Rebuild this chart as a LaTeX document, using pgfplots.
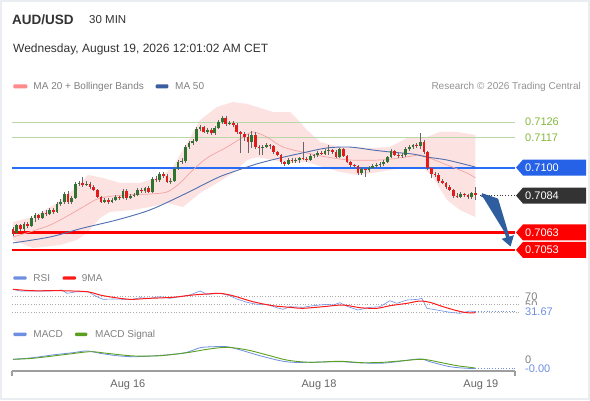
\documentclass[border=0pt]{standalone}
\usepackage{fontspec}
\setmainfont{Liberation Sans}
\usepackage{pgfplots}
\pgfplotsset{compat=1.18}
\usepackage{pgfplotstable}
\usetikzlibrary{arrows.meta}

\definecolor{cgreen}{HTML}{2F7330}
\definecolor{cred}{HTML}{E21B1B}
\definecolor{wick}{HTML}{666666}
\definecolor{bbfill}{HTML}{FDE2E2}
\definecolor{ma20}{HTML}{F4A3A3}
\definecolor{ma20leg}{HTML}{FF8A8A}
\definecolor{ma50}{HTML}{4F6FAF}
\definecolor{ma50leg}{HTML}{3A5E9E}
\definecolor{lvlgreen}{HTML}{B9D8A5}
\definecolor{lvlgreentext}{HTML}{86B83E}
\definecolor{levelblue}{RGB}{38,98,232}
\definecolor{levelline}{RGB}{40,108,250}
\definecolor{tagdark}{HTML}{333333}
\definecolor{lvlred}{HTML}{FF0000}
\definecolor{arrowblue}{HTML}{2F5E9E}
\definecolor{rsiblue}{HTML}{6F8FE2}
\definecolor{rsired}{HTML}{FF1A1A}
\definecolor{sigreen}{HTML}{5AA01E}
\definecolor{txtgrey}{HTML}{808080}
\definecolor{ticktxt}{HTML}{666666}
\definecolor{titletxt}{HTML}{333333}
\definecolor{axgrey}{HTML}{9E9E9E}
\definecolor{framecol}{HTML}{EAEEF2}
\definecolor{dotgrey}{HTML}{AAAAAA}

\newcommand{\fs}[1]{\fontsize{#1bp}{#1bp}\selectfont}
\newcommand{\pricetag}[4]{%
  \fill[#1] ([xshift=1bp]axis cs:136.8,#2) -- ++(7bp,8bp) -- ++(63bp,0bp) -- ++(0bp,-16bp) -- ++(-63bp,0bp) -- cycle;
  \node[anchor=west, inner sep=0pt, text=#4, font=\fs{11}] at ([xshift=10bp]axis cs:136.8,#2) {#3};}

\pgfplotstableread{
i o h l c
0 0.70649 0.70661 0.70609 0.70627
1 0.70627 0.70678 0.70621 0.70672
2 0.70672 0.70678 0.70638 0.70649
3 0.70649 0.70689 0.70638 0.70678
4 0.70678 0.70689 0.70655 0.70667
5 0.70667 0.70724 0.70661 0.70712
6 0.70712 0.70741 0.70689 0.70729
7 0.70729 0.70735 0.70701 0.70712
8 0.70712 0.70752 0.70707 0.70741
9 0.70741 0.70758 0.70724 0.70735
10 0.70735 0.70769 0.70729 0.70758
11 0.70758 0.70769 0.70735 0.70747
12 0.70747 0.70804 0.70741 0.70792
13 0.70792 0.70821 0.70781 0.70804
14 0.70804 0.70861 0.70792 0.70849
15 0.70849 0.70866 0.70792 0.70804
16 0.70804 0.70838 0.70792 0.70826
17 0.70826 0.70918 0.70821 0.70906
18 0.70906 0.70923 0.70895 0.70912
19 0.70912 0.70946 0.70889 0.70901
20 0.70901 0.70923 0.70895 0.70906
21 0.70906 0.70918 0.70878 0.70889
22 0.70889 0.70901 0.70866 0.70872
23 0.70872 0.70878 0.70826 0.70832
24 0.70832 0.70838 0.70798 0.70804
25 0.70804 0.70826 0.70798 0.70815
26 0.70815 0.70826 0.70792 0.70804
27 0.70804 0.70826 0.70798 0.70815
28 0.70815 0.70844 0.70809 0.70832
29 0.70832 0.70838 0.70815 0.70826
30 0.70826 0.70878 0.70821 0.70866
31 0.70866 0.70878 0.70815 0.70826
32 0.70826 0.70849 0.70821 0.70838
33 0.70838 0.70855 0.70832 0.70844
34 0.70844 0.70883 0.70838 0.70872
35 0.70872 0.70883 0.70855 0.70866
36 0.70866 0.70889 0.70855 0.70883
37 0.70883 0.70895 0.70855 0.70861
38 0.70861 0.70946 0.70855 0.70935
39 0.70935 0.70952 0.70918 0.70929
40 0.70929 0.70975 0.70918 0.70963
41 0.70963 0.70975 0.70941 0.70952
42 0.70952 0.70963 0.70912 0.70918
43 0.70918 0.70941 0.70906 0.70923
44 0.70923 0.71003 0.70918 0.70992
45 0.70992 0.71043 0.70986 0.71032
46 0.71032 0.71055 0.71020 0.71037
47 0.71037 0.71129 0.71026 0.71117
48 0.71117 0.71152 0.71106 0.71140
49 0.71140 0.71163 0.71129 0.71152
50 0.71152 0.71231 0.71146 0.71220
51 0.71220 0.71243 0.71209 0.71231
52 0.71231 0.71237 0.71197 0.71203
53 0.71203 0.71226 0.71192 0.71214
54 0.71214 0.71226 0.71186 0.71197
55 0.71197 0.71237 0.71186 0.71226
56 0.71226 0.71271 0.71220 0.71260
57 0.71260 0.71294 0.71249 0.71283
58 0.71283 0.71294 0.71237 0.71249
59 0.71249 0.71266 0.71243 0.71254
60 0.71254 0.71266 0.71231 0.71243
61 0.71243 0.71254 0.71192 0.71203
62 0.71203 0.71209 0.71083 0.71192
63 0.71192 0.71203 0.71152 0.71174
64 0.71174 0.71192 0.71083 0.71146
65 0.71146 0.71209 0.71112 0.71186
66 0.71186 0.71203 0.71106 0.71117
67 0.71117 0.71129 0.71072 0.71112
68 0.71112 0.71129 0.71072 0.71117
69 0.71117 0.71140 0.71112 0.71129
70 0.71129 0.71134 0.71106 0.71123
71 0.71123 0.71129 0.71077 0.71089
72 0.71089 0.71094 0.71066 0.71072
73 0.71072 0.71077 0.71020 0.71032
74 0.71032 0.71037 0.71009 0.71020
75 0.71020 0.71055 0.71015 0.71043
76 0.71043 0.71055 0.71026 0.71037
77 0.71037 0.71055 0.71026 0.71043
78 0.71043 0.71060 0.71026 0.71055
79 0.71055 0.71146 0.71043 0.71049
80 0.71049 0.71060 0.71032 0.71043
81 0.71043 0.71077 0.71037 0.71066
82 0.71066 0.71077 0.71055 0.71072
83 0.71072 0.71094 0.71060 0.71083
84 0.71083 0.71094 0.71072 0.71077
85 0.71077 0.71106 0.71072 0.71094
86 0.71094 0.71129 0.71072 0.71100
87 0.71100 0.71106 0.71077 0.71089
88 0.71089 0.71100 0.71055 0.71060
89 0.71060 0.71112 0.71055 0.71106
90 0.71106 0.71112 0.71060 0.71066
91 0.71066 0.71072 0.71026 0.71032
92 0.71032 0.71037 0.71003 0.71015
93 0.71015 0.71020 0.70998 0.71009
94 0.71009 0.71015 0.70958 0.70969
95 0.70969 0.71003 0.70958 0.70992
96 0.70992 0.71003 0.70946 0.70986
97 0.70986 0.71009 0.70975 0.70998
98 0.70998 0.71020 0.70992 0.71009
99 0.71009 0.71026 0.70998 0.71015
100 0.71015 0.71032 0.71003 0.71020
101 0.71020 0.71043 0.71009 0.71032
102 0.71032 0.71066 0.71026 0.71060
103 0.71060 0.71106 0.71055 0.71094
104 0.71094 0.71100 0.71066 0.71072
105 0.71072 0.71083 0.71055 0.71066
106 0.71066 0.71083 0.71055 0.71072
107 0.71072 0.71117 0.71060 0.71106
108 0.71106 0.71129 0.71094 0.71117
109 0.71117 0.71134 0.71106 0.71129
110 0.71129 0.71140 0.71112 0.71123
111 0.71123 0.71197 0.71106 0.71146
112 0.71146 0.71157 0.71077 0.71089
113 0.71089 0.71094 0.70986 0.70998
114 0.70998 0.71003 0.70941 0.70963
115 0.70963 0.70975 0.70946 0.70958
116 0.70958 0.70969 0.70912 0.70923
117 0.70923 0.70935 0.70906 0.70912
118 0.70912 0.70918 0.70878 0.70889
119 0.70889 0.70901 0.70866 0.70872
120 0.70872 0.70878 0.70826 0.70838
121 0.70838 0.70855 0.70826 0.70832
122 0.70832 0.70861 0.70826 0.70849
123 0.70849 0.70855 0.70832 0.70844
124 0.70844 0.70849 0.70821 0.70832
125 0.70832 0.70861 0.70821 0.70855
126 0.70855 0.70889 0.70815 0.70844
}\candles

\begin{document}
\begin{tikzpicture}[x=1bp,y=1bp]
\useasboundingbox (0,0) rectangle (590,400);
\fill[white] (0,0) rectangle (590,400);
\draw[draw=framecol, line width=2bp] (1,1) rectangle (589,399);

% ---------- main price panel ----------
\begin{axis}[at={(12bp,142bp)}, anchor=south west, scale only axis,
  width=503bp, height=163bp, xmin=-0.27, xmax=136.8,
  ymin=0.70484, ymax=0.71414, hide axis, clip=false]
% Bollinger band (upper edge, then lower edge backwards)
\addplot[fill=bbfill, draw=none, forget plot] coordinates {(0,0.70689) (5.4,0.70718) (12,0.70798) (17.4,0.70889) (20.4,0.70958) (24.5,0.70941) (29.2,0.70912) (34.6,0.70912) (40.1,0.70946) (43.6,0.71003) (47.4,0.71140) (51,0.71271) (55.6,0.71346) (59.9,0.71374) (63.8,0.71363) (66.5,0.71346) (70.8,0.71317) (75.5,0.71317) (77.7,0.71271) (80.1,0.71214) (83.7,0.71146) (89.1,0.71117) (98.1,0.71112) (102.7,0.71117) (107.4,0.71169) (112.8,0.71174) (116.3,0.71203) (121,0.71203) (126,0.71186)
 (126,0.70718) (121.8,0.70758) (118.3,0.70815) (114.4,0.70946) (111.7,0.71003) (107.4,0.71003) (102.7,0.70986) (98.1,0.70969) (93.7,0.70958) (89.1,0.70975) (84.5,0.71003) (80.1,0.71032) (75.5,0.71026) (70.8,0.71043) (66.5,0.71060) (63.8,0.71043) (59.9,0.70969) (55.6,0.70912) (51,0.70855) (46.3,0.70775) (42,0.70798) (37.3,0.70775) (32.7,0.70758) (26.4,0.70747) (23.7,0.70712) (20.2,0.70627) (17.4,0.70587) (12.8,0.70558) (5.4,0.70541) (0,0.70587)};
% levels
\addplot[color=lvlgreen, line width=0.9bp] coordinates {(-0.27,0.7126) (136.8,0.7126)};
\addplot[color=lvlgreen, line width=0.9bp] coordinates {(-0.27,0.7117) (136.8,0.7117)};
\addplot[color=lvlred, line width=2.3bp] coordinates {(-0.27,0.7063) (136.8,0.7063)};
\addplot[color=lvlred, line width=2.3bp] coordinates {(-0.27,0.7053) (136.8,0.7053)};
% 0.7100 level as a thin filled band (2 bp high)
\addplot[fill=levelline, draw=none] coordinates {(-0.27,0.709943) (136.8,0.709943) (136.8,0.710057) (-0.27,0.710057)};
% moving averages
\addplot[color=ma20, line width=0.7bp, smooth] coordinates {(0,0.70604) (10.1,0.70672) (19.1,0.70775) (23.7,0.70826) (31.1,0.70844) (37.3,0.70849) (42,0.70861) (45.5,0.70912) (49,0.70986) (52.9,0.71055) (58.3,0.71117) (62.7,0.71174) (65.4,0.71203) (69.2,0.71174) (73.6,0.71117) (80.1,0.71083) (85.6,0.71060) (91.8,0.71043) (100,0.71043) (105.4,0.71055) (110.9,0.71072) (112.8,0.71060) (118.3,0.71015) (123.7,0.70969) (126,0.70941)};
\addplot[color=ma50, line width=0.9bp, smooth] coordinates {(0,0.70570) (10.1,0.70604) (19.1,0.70655) (28.3,0.70701) (37.3,0.70758) (46.3,0.70844) (55.6,0.70941) (59.9,0.70975) (63.8,0.71003) (67.3,0.71026) (72.8,0.71055) (80.1,0.71089) (85.6,0.71112) (91.8,0.71117) (98.1,0.71100) (102.7,0.71089) (109,0.71077) (112.8,0.71060) (118.3,0.71043) (126,0.71003)};
% candlesticks from the table
\pgfplotstablegetrowsof{\candles}
\pgfmathtruncatemacro\nrows{\pgfplotsretval-1}
\pgfplotsforeachungrouped \r in {0,...,\nrows}{%
  \pgfplotstablegetelem{\r}{i}\of\candles \let\ci\pgfplotsretval
  \pgfplotstablegetelem{\r}{o}\of\candles \let\co\pgfplotsretval
  \pgfplotstablegetelem{\r}{h}\of\candles \let\ch\pgfplotsretval
  \pgfplotstablegetelem{\r}{l}\of\candles \let\cl\pgfplotsretval
  \pgfplotstablegetelem{\r}{c}\of\candles \let\cc\pgfplotsretval
  \ifdim\cc pt<\co pt \def\ccol{cred}\else\def\ccol{cgreen}\fi
  \edef\tmp{\noexpand\addplot[color=wick, line width=0.6bp, forget plot] coordinates {(\ci,\cl) (\ci,\ch)};
    \noexpand\addplot[color=\ccol, line width=2.7bp, forget plot] coordinates {(\ci,\co) (\ci,\cc)};}%
  \tmp
}
% last price dotted
\addplot[color=tagdark, dotted, line width=0.8bp] coordinates {(127.3,0.7084) (136.8,0.7084)};
% forecast arrow
\draw[draw=arrowblue, fill=arrowblue, line width=3.5bp, -{Triangle[length=10bp,width=12bp]}]
  (axis cs:127.7,0.70844) -- (axis cs:131.8,0.70815) -- (axis cs:135.6,0.70549);
% level tags
\node[anchor=west, inner sep=0pt, text=lvlgreentext, font=\fs{11}] at ([xshift=10bp]axis cs:136.8,0.7126) {0.7126};
\node[anchor=west, inner sep=0pt, text=lvlgreentext, font=\fs{11}] at ([xshift=10bp]axis cs:136.8,0.7117) {0.7117};
\pricetag{levelblue}{0.7100}{0.7100}{white}
\pricetag{tagdark}{0.7084}{0.7084}{white}
\pricetag{lvlred}{0.7063}{0.7063}{white}
\pricetag{lvlred}{0.7053}{0.7053}{white}
\end{axis}

% ---------- RSI panel ----------
\begin{axis}[at={(12bp,82bp)}, anchor=south west, scale only axis,
  width=503bp, height=34bp, xmin=-0.27, xmax=136.8,
  ymin=15.4, ymax=102.6, hide axis, clip=false]
\addplot[color=dotgrey, dotted, line width=0.7bp] coordinates {(-0.27,70) (138.1,70)};
\addplot[color=dotgrey, dotted, line width=0.7bp] coordinates {(-0.27,50) (138.1,50)};
\addplot[color=dotgrey, dotted, line width=0.7bp] coordinates {(-0.27,30) (138.1,30)};
\addplot[color=rsiblue, line width=0.6bp] coordinates {(0,89) (1.9,84.6) (5.4,84.6) (10.1,84.6) (13.4,87.2) (14.7,78.7) (17.4,82.8) (20.4,82.8) (22.9,70) (24.5,63.3) (27.2,64.1) (31.1,63.3) (32.7,63.3) (34.6,67.4) (37.3,65.9) (40.1,70) (42.8,65.9) (45.5,70) (48.2,74.4) (51,84.6) (52.9,76.2) (56.4,78.7) (59.1,72.6) (61,64.1) (63.8,55.6) (66.5,50.5) (69.2,50.5) (71.9,41.8) (73.6,37.7) (75.5,44.4) (79,42.8) (81.7,46.9) (85.6,50.5) (87.2,48.5) (89.1,54.6) (91.3,44.4) (94,35.9) (97.3,42.8) (100,44.4) (102.7,59.7) (104.6,53.1) (107.4,61.5) (110.4,63.3) (111.4,65.9) (112.8,40.3) (115.5,35.9) (119.1,30) (121.8,27.4) (124.5,33.3) (126,31.67)};
\addplot[color=rsired, line width=1bp, smooth] coordinates {(0,89) (5.4,85.4) (12.8,85.4) (20.2,82.8) (23.7,74.4) (27.2,68.5) (31.9,63.3) (37.3,65.9) (43.6,68.5) (49,74.4) (52.9,77) (56.4,78.7) (59.9,72.6) (65.4,57.2) (70.8,46.9) (75.5,42.8) (79,40.3) (84.5,44.4) (89.9,48.7) (94.6,41.8) (99.2,40.3) (102.7,46.9) (107.4,53.1) (110.9,59) (113.6,55.6) (117.2,44.4) (121,34.1) (123.7,29) (126,29)};
\addplot[color=rsiblue, dotted, line width=0.8bp] coordinates {(126,31.67) (136.8,31.67)};
\node[anchor=west, inner sep=0pt, text=txtgrey, font=\fs{11}] at ([xshift=10bp]axis cs:136.8,70) {70};
\node[anchor=west, inner sep=0pt, text=txtgrey, font=\fs{11}] at ([xshift=10bp]axis cs:136.8,50) {50};
\node[anchor=west, inner xsep=0.8bp, inner ysep=2.6bp, fill=white, text=rsiblue, font=\fs{11}] at ([xshift=9.2bp]axis cs:136.8,31.67) {31.67};
\end{axis}

% ---------- MACD panel ----------
\begin{axis}[at={(12bp,29bp)}, anchor=south west, scale only axis,
  width=503bp, height=31bp, xmin=-0.27, xmax=136.8,
  ymin=-0.000585, ymax=0.000965, clip=false,
  axis x line*=bottom, axis y line=none,
  x axis line style={draw=axgrey, line width=1.6bp, -},
  ytick=\empty, xtick={31.3,83.4,127.5},
  xticklabels={Aug 16,Aug 18,Aug 19}, major tick length=0pt,
  xticklabel style={font=\fs{11}, text=ticktxt, yshift=-5bp}]
\addplot[color=rsiblue, line width=0.8bp, smooth] coordinates {(0,0) (5.4,0.00008) (10.9,0.00022) (16.3,0.00033) (20.2,0.00042) (23.7,0.00030) (28.3,0.00018) (32.7,0.00013) (38.1,0.00017) (43.6,0.00025) (47.4,0.00035) (51,0.00058) (54.5,0.00063) (58.3,0.00063) (61.9,0.00047) (67.3,0.00018) (72.8,-0.00007) (76.3,-0.00015) (80.1,-0.00015) (89.1,-0.00012) (93.7,-0.00017) (100,-0.00020) (104.6,-0.00012) (110.9,0.00002) (113.6,-0.00012) (119.1,-0.00037) (123.7,-0.00045) (126,-0.00045)};
\addplot[color=sigreen, line width=0.9bp, smooth] coordinates {(0,0) (5.4,0.00005) (14.7,0.00025) (21,0.00038) (25.6,0.00030) (32.7,0.00017) (40.1,0.00018) (47.4,0.00033) (52.9,0.00050) (58.3,0.00060) (63.8,0.00047) (69.2,0.00022) (74.7,-0.00004) (80.9,-0.00015) (89.1,-0.00010) (95.4,-0.00017) (100.8,-0.00015) (106.3,-0.00007) (111.7,0) (116.3,-0.00015) (121,-0.00032) (124.5,-0.00040) (126,-0.00044)};
\addplot[color=rsiblue, dotted, line width=0.8bp] coordinates {(126,-0.00045) (136.8,-0.00045)};
\draw[draw=axgrey, line width=1.2bp] (rel axis cs:0,0) -- ++(0bp,-5bp);
\draw[draw=axgrey, line width=1.2bp] (rel axis cs:1,0) -- ++(0bp,-5bp);
\node[anchor=west, inner sep=0pt, text=txtgrey, font=\fs{11}] at ([xshift=10bp]axis cs:136.8,0) {0};
\node[anchor=west, inner xsep=0.8bp, inner ysep=1.2bp, fill=white, text=rsiblue, font=\fs{11}] at ([xshift=9.2bp]axis cs:136.8,-0.00045) {-0.00};
\end{axis}

% ---------- titles and legends ----------
\node[anchor=base west, inner sep=0pt, text=titletxt, font=\fs{13.5}\bfseries] at (12,376) {AUD/USD};
\node[anchor=base west, inner sep=0pt, text=titletxt, font=\fs{11.5}] at (89,377) {30 MIN};
\node[anchor=base west, inner sep=0pt, text=titletxt, font=\fs{12}] at (13,348) {Wednesday, August 19, 2026 12:01:02 AM CET};

\fill[ma20leg, rounded corners=1bp] (13.3,311.7) rectangle (27.3,315.7);
\node[anchor=base west, inner sep=0pt, text=txtgrey, font=\fs{10}] at (33.3,310.5) {MA 20 + Bollinger Bands};
\fill[ma50leg, rounded corners=1bp] (155.7,311.7) rectangle (168.3,315.7);
\node[anchor=base west, inner sep=0pt, text=txtgrey, font=\fs{10}] at (175,310.5) {MA 50};
\node[anchor=base east, inner sep=0pt, text=txtgrey!85, font=\fs{10}] at (581,310.5) {Research © 2026 Trading Central};

\fill[rsiblue, rounded corners=1bp] (13.3,120.3) rectangle (26.7,123.7);
\node[anchor=base west, inner sep=0pt, text=txtgrey, font=\fs{10}] at (33.3,118.7) {RSI};
\fill[rsired, rounded corners=1bp] (62.7,120.3) rectangle (76,123.7);
\node[anchor=base west, inner sep=0pt, text=txtgrey, font=\fs{10}] at (81.7,118.7) {9MA};

\fill[rsiblue, rounded corners=1bp] (13.3,64) rectangle (26.7,67.4);
\node[anchor=base west, inner sep=0pt, text=txtgrey, font=\fs{10}] at (33.3,62.4) {MACD};
\fill[sigreen, rounded corners=1bp] (75,64) rectangle (87.3,67.4);
\node[anchor=base west, inner sep=0pt, text=txtgrey, font=\fs{10}] at (95,62.4) {MACD Signal};
\end{tikzpicture}
\end{document}
